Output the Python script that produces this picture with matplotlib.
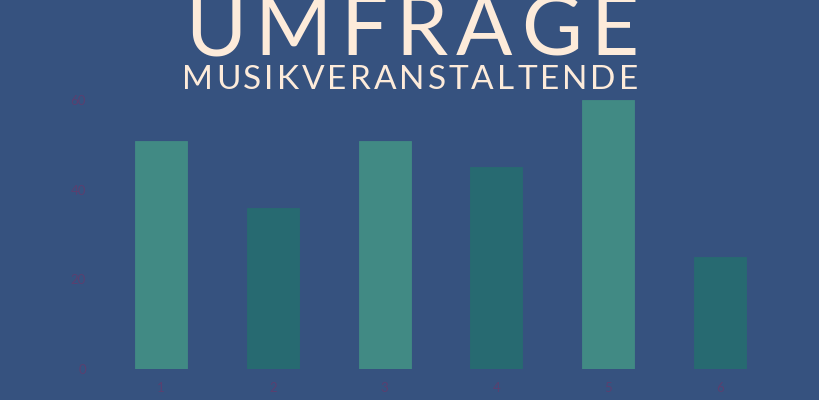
import matplotlib
matplotlib.use("Agg")
import matplotlib.pyplot as plt
from matplotlib.font_manager import FontProperties

categories = ["1", "2", "3", "4", "5", "6"]
values = [51, 36, 51, 45, 60, 25]
yticks = [0, 20, 40, 60]
title = "UMFRAGE"
subtitle = "MUSIKVERANSTALTENDE"

BG = "#36527F"
LIGHT = "#418A84"
DARK = "#276A71"
TICK = "#5A4070"
CREAM = "#FDEBDA"

W, H = 820, 400
fig = plt.figure(figsize=(W / 100, H / 100), dpi=100)
fig.patch.set_facecolor(BG)

ax = fig.add_axes([100 / W, 1 - 369 / H, 680 / W, (369 - 100.3) / H])
ax.set_facecolor(BG)
x = list(range(len(categories)))
colors = [LIGHT, DARK, LIGHT, DARK, LIGHT, DARK]
ax.bar(x, values, width=0.465, color=colors, edgecolor=colors, linewidth=0.6)
ax.set_xlim(-0.546, 5.537)
ax.set_ylim(0, 60)
ax.set_xticks(x)
ax.set_xticklabels(categories)
ax.set_yticks(yticks)
for s in ax.spines.values():
    s.set_visible(False)
ax.tick_params(axis="both", length=0, colors=TICK, labelsize=9.5)
ax.tick_params(axis="y", pad=10)
ax.tick_params(axis="x", pad=9)
for lab in ax.get_xticklabels() + ax.get_yticklabels():
    lab.set_family(["Lato", "DejaVu Sans"])

renderer = fig.canvas.get_renderer()


def tracked(text, left, right, baseline, size, weight="normal"):
    fp = FontProperties(family=["Lato", "DejaVu Sans"], size=size, weight=weight)
    artists = []
    widths = []
    for ch in text:
        t = fig.text(0, 0, ch, fontproperties=fp, color=CREAM,
                     ha="left", va="baseline", transform=None)
        bb = t.get_window_extent(renderer)
        artists.append(t)
        widths.append(bb.width)
    total = sum(widths)
    gap = (right - left - total) / (len(text) - 1)
    xpos = left
    for t, w in zip(artists, widths):
        t.set_position((xpos, H - baseline))
        xpos += w + gap


tracked(title, 185, 638, 55, 60, weight="normal")
tracked(subtitle, 182, 638, 89, 24, weight="normal")

fig.savefig("out.png", dpi=100, facecolor=BG)
